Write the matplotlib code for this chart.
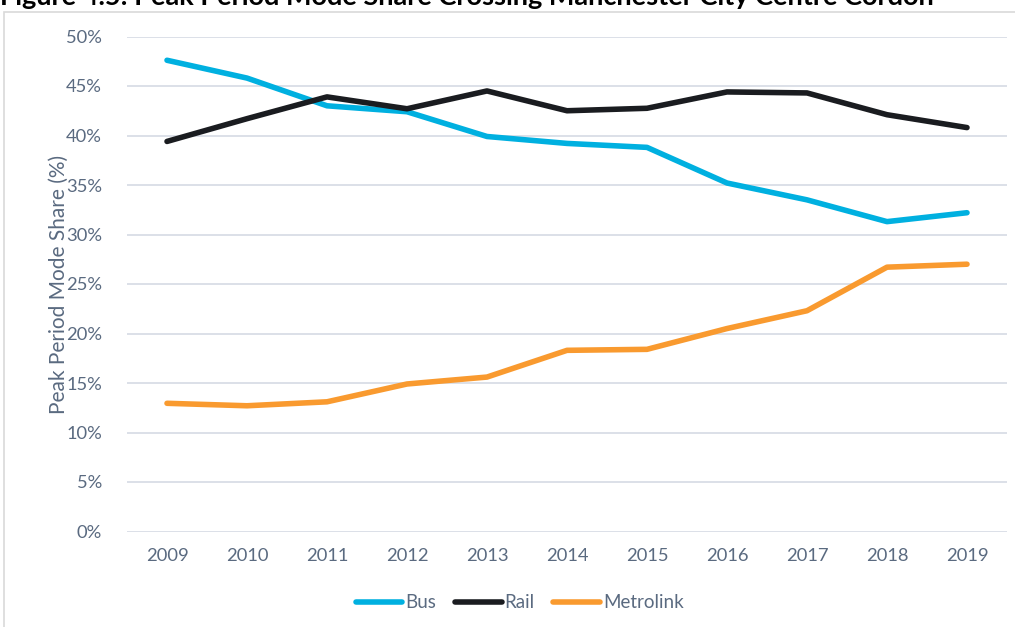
import matplotlib.pyplot as plt
from matplotlib.patches import Rectangle
from matplotlib.ticker import FuncFormatter

plt.rcParams['font.family'] = ['Lato', 'DejaVu Sans']

years = ['2009', '2010', '2011', '2012', '2013', '2014', '2015', '2016', '2017', '2018', '2019']
bus = [47.6, 45.8, 43.0, 42.4, 39.9, 39.2, 38.8, 35.2, 33.5, 31.3, 32.2]
rail = [39.4, 41.7, 43.9, 42.7, 44.5, 42.5, 42.75, 44.4, 44.3, 42.1, 40.8]
metrolink = [12.95, 12.7, 13.1, 14.9, 15.6, 18.3, 18.4, 20.5, 22.3, 26.7, 27.0]

txt = '#5a6a80'
grid = '#d9dde6'

fig = plt.figure(figsize=(10.15, 6.27), dpi=100, facecolor='w')
# chart frame (cropped at right and bottom)
fig.patches.append(Rectangle((4/1015, -0.1), 1.2, (627-12)/627 + 0.1, transform=fig.transFigure,
                             fill=False, edgecolor='#d9d9d9', lw=1.2))
fig.text(0.0, 1.004, 'Figure 4.5: Peak Period Mode Share Crossing Manchester City Centre Cordon',
         fontsize=19.5, fontweight='bold', color='black', ha='left', va='center')

ax = fig.add_axes([127/1015, (627-531.5)/627, (1007-127)/1015, (531.5-36.5)/627])
x = range(len(years))
ax.plot(x, bus, color='#00b0e0', lw=4, solid_capstyle='round', label='Bus')
ax.plot(x, rail, color='#1a1c20', lw=4, solid_capstyle='round', label='Rail')
ax.plot(x, metrolink, color='#f99a2f', lw=4, solid_capstyle='round', label='Metrolink')

ax.set_xlim(-0.5, len(years) - 0.5)
ax.set_ylim(0, 50)
ax.set_yticks(range(0, 51, 5))
ax.yaxis.set_major_formatter(FuncFormatter(lambda v, p: f'{v:.0f}%'))
ax.set_xticks(list(x))
ax.set_xticklabels(years)
ax.grid(axis='y', color=grid, lw=1.3)
ax.set_axisbelow(True)
for s in ax.spines.values():
    s.set_visible(False)
ax.tick_params(length=0, labelsize=13.2, colors=txt)
ax.tick_params(axis='y', pad=18)
ax.tick_params(axis='x', pad=12)
ax.set_ylabel('Peak Period Mode Share (%)', fontsize=15, color=txt, labelpad=-2)

leg = fig.legend(loc='center', bbox_to_anchor=(0.512, (627-603)/627), ncol=3, frameon=False,
                 fontsize=13.5, handlelength=2.5, handletextpad=0.15, columnspacing=1.0)
for t in leg.get_texts():
    t.set_color(txt)

fig.savefig('out.png', dpi=100, facecolor='w')
